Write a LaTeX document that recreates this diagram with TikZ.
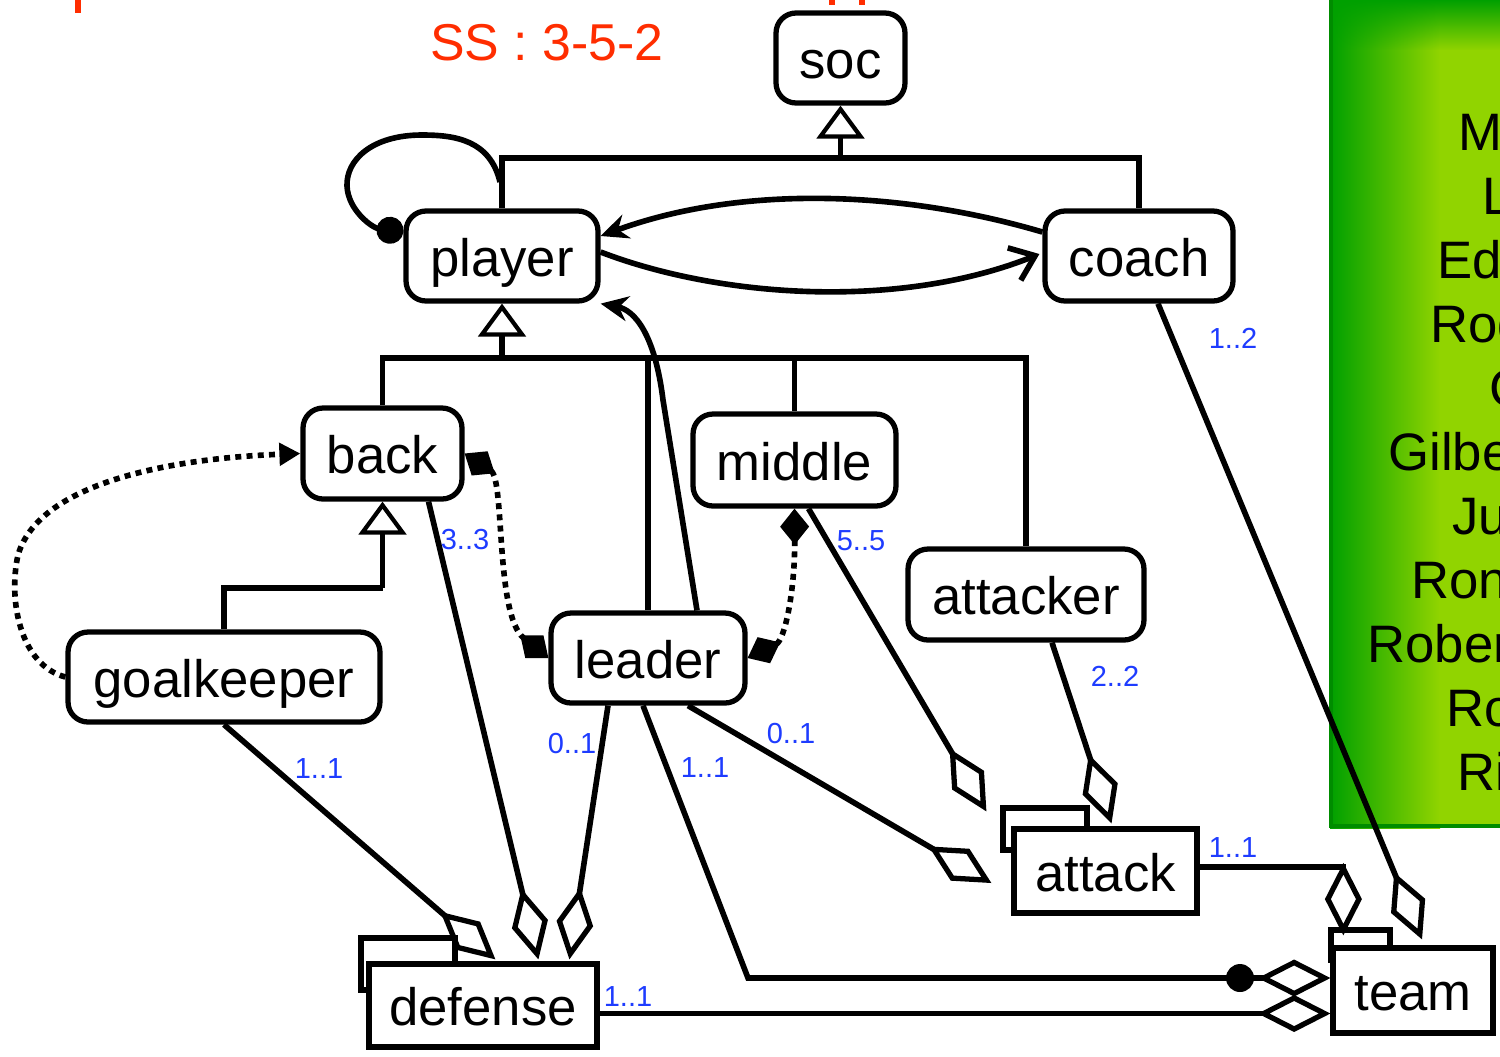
\documentclass[tikz,border=0pt]{standalone}
\usepackage{fontspec}
\setmainfont{Liberation Sans}
\usetikzlibrary{arrows.meta,calc,fadings}
\definecolor{mblue}{RGB}{30,60,255}
\definecolor{ssred}{RGB}{255,45,0}
\definecolor{pgD}{RGB}{0,160,0}
\definecolor{pgL}{RGB}{145,212,0}
\definecolor{pgB}{RGB}{0,140,0}
\newcommand{\nodefont}{\fontsize{30}{36}\selectfont}
\newcommand{\multfont}{\fontsize{16.5}{20}\selectfont}
\newcommand{\ssfont}{\fontsize{29.5}{35}\selectfont}
\begin{document}
\begin{tikzpicture}[x=0.02cm,y=-0.02cm,
  cls/.style={draw, line width=3pt, rounded corners=0.4cm, fill=white, font=\nodefont, text height=23pt, text depth=0pt, inner sep=0pt},
  inst/.style={draw, line width=3pt, fill=white, font=\nodefont, text height=23pt, text depth=0pt, inner sep=0pt},
  conn/.style={line width=3.2pt},
  gen/.style={conn, -{Triangle[open, length=0.66cm, width=0.95cm, line width=2.4pt]}},
  agg/.style={conn, -{Diamond[open, length=1.45cm, width=0.74cm, line width=3pt]}},
  comp/.style={conn, dash pattern=on 3.4pt off 3pt, {Diamond[length=0.72cm,width=0.58cm]}-{Diamond[length=0.72cm,width=0.58cm]}},
  mult/.style={text=mblue, font=\multfont, inner sep=0pt},
  plname/.style={font=\nodefont, anchor=base west, inner sep=0pt},
]
\useasboundingbox (0,0) rectangle (1500,1056);
\fill[white] (0,0) rectangle (1500,1056);

% green panel (its names run past the right edge, as in the reference)
\begin{scope}
\clip (0,0) rectangle (1500,1056);
\fill[pgL] (1330,0) rectangle (1500,828);
\shade[left color=pgD, right color=pgL] (1330,0) rectangle (1440,828);
\fill[pgD, path fading=south] (1330,0) rectangle (1500,50);
\draw[pgB, line width=2.4pt] (1331,-5) -- (1331,826) -- (1510,826);
\node[plname] (nm0) at (1458,150) {Marcos};
\node[plname] (nm1) at (1482,214) {Lucio};
\node[plname] (nm2) at (1437,278) {Edmilson};
\node[plname] (nm3) at (1430,342) {Roque Jr.};
\node[plname] (nm4) at (1489,406) {Cafu};
\node[plname] (nm5) at (1388,470) {Gilberto Silva};
\node[plname] (nm6) at (1452,534) {Juninho};
\node[plname] (nm7) at (1411,598) {Ronaldinho};
\node[plname] (nm8) at (1367,662) {Roberto Carlos};
\node[plname] (nm9) at (1446,726) {Ronaldo};
\node[plname] (nm10) at (1457,790) {Rivaldo};
\end{scope}

% red text
\fill[ssred] (75,0) rectangle (81,13);
\fill[ssred] (829,0) rectangle (835,5);
\fill[ssred] (859,0) rectangle (865,5);
\node[font=\ssfont, text=ssred, anchor=base, inner sep=0pt] (ss) at (547,60) {SS : 3-5-2};

% classes
\node[cls, minimum width=2.58cm, minimum height=1.8cm] (soc) at (840.5,58) {soc};
\node[cls, minimum width=3.84cm, minimum height=1.8cm] (player) at (502,256) {player};
\node[cls, minimum width=3.76cm, minimum height=1.8cm] (coach) at (1139,256) {coach};
\node[cls, minimum width=3.18cm, minimum height=1.82cm] (back) at (382.5,453.5) {back};
\node[cls, minimum width=4.06cm, minimum height=1.84cm] (middle) at (794.5,460) {middle};
\node[cls, minimum width=4.72cm, minimum height=1.82cm] (attacker) at (1026,594.5) {attacker};
\node[cls, minimum width=6.24cm, minimum height=1.8cm] (goalkeeper) at (224,677) {goalkeeper};
\node[cls, minimum width=3.88cm, minimum height=1.8cm] (leader) at (648,658) {leader};

% instance boxes
\draw[line width=3pt] (361,938) rectangle (455,990);
\node[inst, minimum width=4.56cm, minimum height=1.66cm] (defense) at (483,1005.5) {defense};
\draw[line width=3pt] (1003,808) rectangle (1087,850);
\node[inst, minimum width=3.66cm, minimum height=1.68cm] (attack) at (1105.5,871) {attack};
\draw[line width=3pt] (1331,930) rectangle (1390,960);
\node[inst, minimum width=3.2cm, minimum height=1.7cm] (team) at (1413,990.5) {team};

% inheritance
\coordinate (j1) at (840.5,158);
\coordinate (j2) at (502,358);
\coordinate (j3) at (382.5,588);
\draw[conn] (player.north) |- (j1) -| (coach.north);
\draw[gen] (j1) -- (soc.south);
\draw[conn] (back.north) |- (j2) -| (attacker.north);
\draw[conn] (middle.north) -- (middle.north |- j2);
\draw[conn] (leader.north) -- (leader.north |- j2);
\draw[gen] (j2) -- (player.south);
\draw[conn] (goalkeeper.north) |- (j3);
\draw[gen] (j3) -- (back.south);

% self loop on player
\coordinate (ls) at (500,182);
\draw[conn, -{Circle[length=0.54cm]}] (ls) .. controls (490,140) and (455,135) .. (422,135) .. controls (372,135) and (346,160) .. (347,186) .. controls (348,210) and (372,228) .. ($(player.west)+(0,-24)$);

% player <-> coach
\draw[conn, -{Stealth[length=0.55cm, width=0.5cm]}] ($(coach.west)+(0,-24)$) .. controls (900,190) and (740,185) .. ($(player.east)+(0,-20)$);
\draw[conn, -{Straight Barb[length=0.45cm, width=0.7cm]}] ($(player.east)+(0,-4)$) .. controls (720,298) and (900,310) .. ($(coach.west)+(-3,-2)$);

% leader -> player
\draw[conn, -{Stealth[length=0.55cm, width=0.5cm]}] ($(leader.north)+(49,0)$) -- (663,400) .. controls (655,335) and (635,310) .. (player.south east);

% compositions (dotted)
\draw[comp] (back.east) .. controls (505,480) and (495,615) .. (leader.west);
\draw[comp] (middle.south) .. controls (795,590) and (785,640) .. (leader.east);
\draw[conn, dash pattern=on 3.4pt off 3pt, -{Triangle[length=0.42cm,width=0.44cm]}] (goalkeeper.west) .. controls (20,665) and (8,600) .. (18,555) .. controls (40,480) and (180,458) .. (back.west);

% aggregations
\coordinate (lt) at (748,978);
\draw[agg] (goalkeeper.south) -- ($(defense.north west)+(129,-2)$);
\draw[agg] ($(back.south)+(46,0)$) -- ($(defense.north west)+(172,-2)$);
\draw[agg] ($(leader.south)+(-40,0)$) -- ($(defense.north west)+(203,-2)$);
\draw[agg] ($(leader.south)+(-5,0)$) -- (lt) -- ($(team.west)+(0,-12.5)$);
\node[circle, fill, inner sep=0pt, minimum size=0.56cm] (dot) at (1240,978) {};
\draw[agg] ($(leader.south)+(40,0)$) -- ($(attack.west)+(-20,12)$);
\draw[agg] ($(middle.south)+(14,0)$) -- ($(attack.north west)+(-25,-15)$);
\draw[agg] ($(attacker.south)+(26,0)$) -- ($(attack.north)+(6,-3)$);
\draw[agg] ($(attack.east)+(0,-4)$) -| ($(team.north west)+(13,-10)$);
\draw[agg] ($(coach.south)+(19,0)$) -- ($(team.north)+(9,-6)$);
\draw[agg] ($(defense.east)+(0,8)$) -- ($(team.west)+(0,23)$);

% multiplicities
\node[mult] (m1) at (1233,338) {1..2};
\node[mult] (m2) at (465,540) {3..3};
\node[mult] (m3) at (861,541) {5..5};
\node[mult] (m4) at (1115,676) {2..2};
\node[mult] (m5) at (319,769) {1..1};
\node[mult] (m6) at (572,744) {0..1};
\node[mult] (m7) at (705,768) {1..1};
\node[mult] (m8) at (791,734) {0..1};
\node[mult] (m9) at (1233,848) {1..1};
\node[mult] (m10) at (628,997) {1..1};
\end{tikzpicture}
\end{document}
